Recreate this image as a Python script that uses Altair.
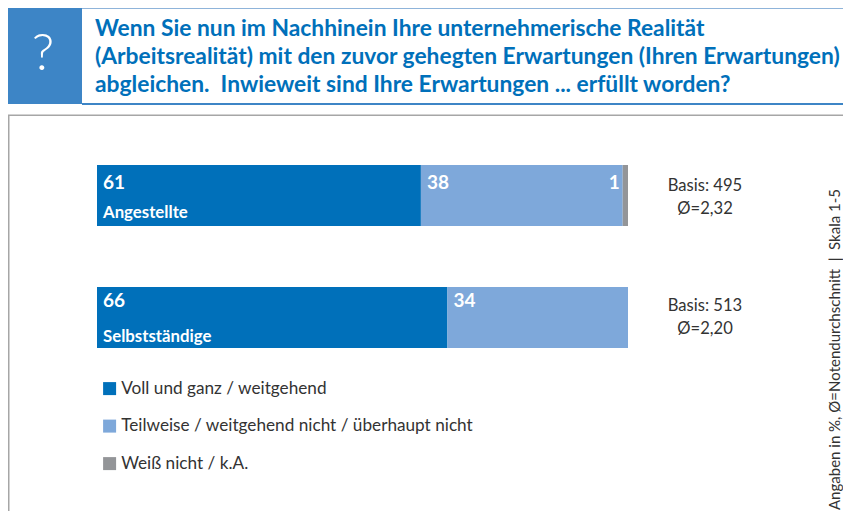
import altair as alt
import pandas as pd

categories = ["Angestellte", "Selbstständige"]
series = ["Voll und ganz / weitgehend", "Teilweise / weitgehend nicht / überhaupt nicht", "Weiß nicht / k.A."]
colors = ["#0070BA", "#7EA8DA", "#939598"]
values = {"Angestellte": [61, 38, 1], "Selbstständige": [66, 34, 0]}
basis = ["Basis: 495", "Basis: 513"]
mean = ["Ø=2,32", "Ø=2,20"]
title_lines = [
    "Wenn Sie nun im Nachhinein Ihre unternehmerische Realität",
    "(Arbeitsrealität) mit den zuvor gehegten Erwartungen (Ihren Erwartungen)",
    "abgleichen.\u00a0 Inwieweit sind Ihre Erwartungen ... erfüllt worden?",
]
note = "Angaben in %, Ø=Notendurchschnitt\u00a0 | \u00a0Skala 1-5"

FONT = "Lato"
rows = []
for c in categories:
    cum = 0
    for i, s in enumerate(series):
        v = values[c][i]
        rows.append({"cat": c, "series": s, "idx": i, "value": v, "start": cum, "end": cum + v, "label": str(v)})
        cum += v
df = pd.DataFrame(rows)
one = pd.DataFrame({"a": [0]})

xs = alt.Scale(domain=[0, 100], range=[89, 620])
ys = alt.Scale(domain=categories, range=[157, 340], paddingInner=0.5, paddingOuter=0)
Y = alt.Y("cat:N", scale=ys, axis=None)

bars = alt.Chart(df[df.value > 0]).mark_bar().encode(
    x=alt.X("start:Q", scale=xs, axis=None),
    x2="end:Q",
    y=Y,
    color=alt.Color(
        "series:N",
        scale=alt.Scale(domain=series, range=colors),
        sort=series,
        legend=alt.Legend(
            orient="none", legendX=93, legendY=372, title=None, symbolType="square",
            symbolSize=169, symbolStrokeWidth=0, labelFont=FONT, labelFontSize=17.2,
            labelColor="#333333", rowPadding=19.5, labelOffset=3, labelLimit=500,
        ),
    ),
)

layers = [bars]


def txt(data, **kw):
    return alt.Chart(data).mark_text(font=FONT, **kw)


def rect(x, x2, y, y2, color):
    return alt.Chart(one).mark_rect(color=color).encode(
        x=alt.value(x), x2=alt.value(x2), y=alt.value(y), y2=alt.value(y2))


layers += [
    rect(0, 74, 0, 96, "#3D85C6"),
    rect(74, 835, 0, 1, "#8FB4DA"),
    rect(74, 835, 95, 97, "#3D85C6"),
    rect(0, 835, 106.5, 108, "#A6A6A6"),
    rect(0, 1.5, 107, 503, "#A6A6A6"),
]

layers.append(txt(one, color="white", fontSize=52, fontWeight=300, align="center", baseline="middle").encode(
    x=alt.value(35), y=alt.value(46), text=alt.value("?")))

for line, y in zip(title_lines, [20.5, 48.5, 77]):
    layers.append(txt(one, color="#0070BA", fontSize=22.8, fontWeight="bold", align="left", baseline="middle").encode(
        x=alt.value(87), y=alt.value(y), text=alt.value(line)))

# value labels
for cat, dy in zip(categories, [-12.5, -16.5]):
    d = df[(df.cat == cat) & (df.value > 1)]
    layers.append(txt(d, color="white", fontSize=19, fontWeight="bold", align="left", baseline="middle", dx=6, dy=dy).encode(
        x=alt.X("start:Q", scale=xs, axis=None), y=Y, text="label:N"))
    d = df[(df.cat == cat) & (df.value == 1)]
    if len(d):
        layers.append(txt(d, color="white", fontSize=19, fontWeight="bold", align="right", baseline="middle", dx=-3, dy=dy).encode(
            x=alt.X("start:Q", scale=xs, axis=None), y=Y, text="label:N"))

# category names
for cat, dy in zip(categories, [17.5, 19.5]):
    d = pd.DataFrame({"cat": [cat], "start": [0]})
    layers.append(txt(d, color="white", fontSize=16.8, fontWeight="bold", align="left", baseline="middle", dx=6, dy=dy).encode(
        x=alt.X("start:Q", scale=xs, axis=None), y=Y, text="cat:N"))

# basis and mean beside each bar
for i, (cat, d1, d2) in enumerate(zip(categories, [-10, -12], [13, 11])):
    info = pd.DataFrame({"cat": [cat], "basis": [basis[i]], "mean": [mean[i]]})
    layers.append(txt(info, color="#333333", fontSize=16.6, align="center", baseline="middle", dy=d1).encode(
        x=alt.value(697), y=Y, text="basis:N"))
    layers.append(txt(info, color="#333333", fontSize=16.6, align="center", baseline="middle", dy=d2).encode(
        x=alt.value(697), y=Y, text="mean:N"))

layers.append(txt(one, color="#333333", fontSize=15, angle=270, align="left", baseline="middle").encode(
    x=alt.value(827), y=alt.value(502), text=alt.value(note)))

chart = alt.layer(*layers).resolve_scale(color="shared").properties(
    width=835, height=503, padding=0, autosize=alt.AutoSizeParams(type="none"), background="white",
).configure_view(stroke=None)

chart.save("out.html", embed_options={"renderer": "svg", "actions": False})
